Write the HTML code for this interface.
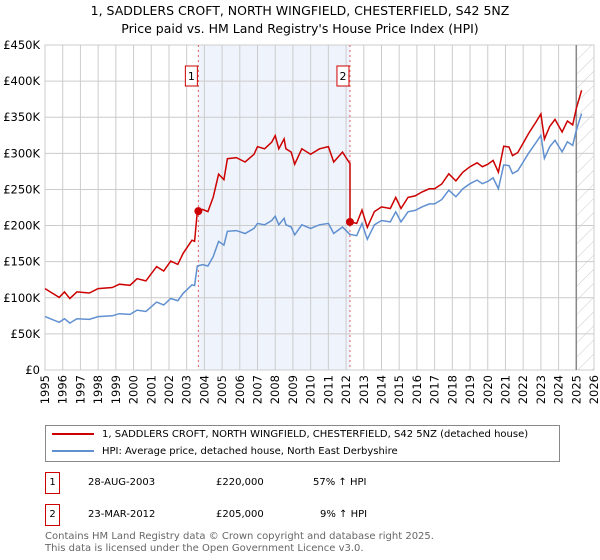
<!DOCTYPE html>
<html><head><meta charset="utf-8"><style>
body{margin:0;background:#fff;font-family:"DejaVu Sans","Liberation Sans",sans-serif;}
#wrap{position:relative;width:600px;height:560px;overflow:hidden}
.t{position:absolute;white-space:nowrap;color:#000}
</style></head><body><div id="wrap">
<div class="t" style="left:0;width:600px;text-align:center;top:2px;font-size:12.5px;line-height:18px">1, SADDLERS CROFT, NORTH WINGFIELD, CHESTERFIELD, S42 5NZ<br>Price paid vs. HM Land Registry's House Price Index (HPI)</div>
<svg id="chart" width="600" height="420" style="position:absolute;left:0;top:0;font-family:'DejaVu Sans',sans-serif"></svg>
<div style="position:absolute;left:45px;top:425px;width:513px;height:35px;border:1px solid #888;font-size:10px">
<div style="position:absolute;left:6px;top:3px;white-space:nowrap"><span style="display:inline-block;width:42px;height:2px;background:#cc0000;vertical-align:middle;margin-right:8px"></span>1, SADDLERS CROFT, NORTH WINGFIELD, CHESTERFIELD, S42 5NZ (detached house)</div>
<div style="position:absolute;left:6px;top:20px;white-space:nowrap"><span style="display:inline-block;width:42px;height:2px;background:#6090d0;vertical-align:middle;margin-right:8px"></span>HPI: Average price, detached house, North East Derbyshire</div>
</div>
<div style="font-size:10px">
<div class="t" style="left:45px;top:472px;width:13px;height:20px;border:1px solid #cc0000;text-align:center;line-height:20px">1</div>
<div class="t" style="left:88px;top:477px">28-AUG-2003</div>
<div class="t" style="left:216px;top:477px">£220,000</div>
<div class="t" style="left:313px;top:477px">57% ↑ HPI</div>
</div>
<div style="font-size:10px">
<div class="t" style="left:45px;top:504px;width:13px;height:20px;border:1px solid #cc0000;text-align:center;line-height:20px">2</div>
<div class="t" style="left:88px;top:509px">23-MAR-2012</div>
<div class="t" style="left:216px;top:509px">£205,000</div>
<div class="t" style="left:320px;top:509px">9% ↑ HPI</div>
</div>
<div class="t" style="left:45px;top:531px;font-size:10px;line-height:12px;color:#666">Contains HM Land Registry data © Crown copyright and database right 2025.<br>This data is licensed under the Open Government Licence v3.0.</div>
</div>
<script>
const hpiYears=[1995.0,1995.8,1996.1,1996.4,1996.8,1997.5,1998,1998.8,1999.2,1999.8,2000.2,2000.7,2001.3,2001.7,2002.1,2002.5,2002.8,2003.3,2003.45,2003.6,2003.9,2004.2,2004.5,2004.8,2005.1,2005.3,2005.8,2006.3,2006.8,2007.0,2007.4,2007.8,2008.0,2008.2,2008.5,2008.6,2008.9,2009.1,2009.5,2010,2010.5,2011,2011.3,2011.8,2012.2,2012.6,2012.9,2013.2,2013.6,2014,2014.5,2014.8,2015.1,2015.5,2015.9,2016.3,2016.7,2017,2017.4,2017.8,2018.2,2018.6,2019,2019.4,2019.7,2020.0,2020.3,2020.6,2020.9,2021.2,2021.4,2021.7,2022.0,2022.3,2022.7,2023.0,2023.2,2023.5,2023.8,2024.2,2024.5,2024.8,2025.0,2025.3];
const hpiValues=[74,66,71,65,71,70,74,75,78,77,83,81,94,90,99,96,106,118,117,144,146,144,157,178,173,192,193,189,196,203,201,207,213,201,210,201,198,187,201,196,201,203,189,198,188,186,203,181,201,207,205,219,205,219,221,226,230,230,236,249,240,251,258,263,258,261,266,251,284,283,272,276,288,300,314,325,293,309,318,302,316,311,332,355];
const saleDates=[2003.66,2012.22];
const salePrices=[220,205];
const yTicks=[0,50,100,150,200,250,300,350,400,450];
const xTicks=[1995,1996,1997,1998,1999,2000,2001,2002,2003,2004,2005,2006,2007,2008,2009,2010,2011,2012,2013,2014,2015,2016,2017,2018,2019,2020,2021,2022,2023,2024,2025,2026];
const dataEnd=2025.0;

const L=45,R=594,T=45,B=370,X0=1995,X1=2026,Ymax=450;
const sx=v=>L+(v-X0)/(X1-X0)*(R-L);
const sy=v=>B-v/Ymax*(B-T);
const NS="http://www.w3.org/2000/svg";
const svg=document.getElementById('chart');
function mk(tag,attrs,parent){const e=document.createElementNS(NS,tag);for(const k in attrs)e.setAttribute(k,attrs[k]);(parent||svg).appendChild(e);return e;}
function hpiAt(t){for(let i=0;i<hpiYears.length-1;i++){if(t>=hpiYears[i]&&t<=hpiYears[i+1]){const f=(t-hpiYears[i])/(hpiYears[i+1]-hpiYears[i]);return hpiValues[i]+f*(hpiValues[i+1]-hpiValues[i]);}}return hpiValues[hpiValues.length-1];}

const sh=mk('rect',{x:sx(saleDates[0]),y:T,width:sx(saleDates[1])-sx(saleDates[0]),height:B-T,fill:'#eef3fc'});


const defs=mk('defs',{});
const pat=mk('pattern',{id:'hatch',width:10,height:10,patternUnits:'userSpaceOnUse',patternTransform:'rotate(45)'},defs);
mk('line',{x1:0,y1:0,x2:0,y2:10,stroke:'#ccc','stroke-width':1},pat);
const ht=mk('rect',{x:sx(dataEnd),y:T,width:R-sx(dataEnd),height:B-T,fill:'url(#hatch)'});


xTicks.forEach(y=>{const g=mk('line',{x1:sx(y),x2:sx(y),y1:T,y2:B,stroke:'#ccc','stroke-width':1});


const tx=mk('text',{x:sx(y),y:B+5,'font-size':11.5,'text-anchor':'end',transform:`rotate(-90 ${sx(y)} ${B+5})`,dy:'0.35em'});tx.textContent=y;

});
yTicks.forEach(v=>{const g=mk('line',{x1:L,x2:R,y1:sy(v),y2:sy(v),stroke:'#ccc','stroke-width':1});


const tx=mk('text',{x:L-5,y:sy(v)+4,'font-size':11.5,'text-anchor':'end'});tx.textContent=v===0?'£0':'£'+v+'K';

});
const bd=mk('rect',{x:L,y:T,width:R-L,height:B-T,fill:'none',stroke:'#ccc'});


const el=mk('line',{x1:sx(dataEnd),x2:sx(dataEnd),y1:T,y2:B,stroke:'#888','stroke-width':1.5});


saleDates.forEach((d,i)=>{const l=mk('line',{x1:sx(d),x2:sx(d),y1:T,y2:B,stroke:'#e06060','stroke-dasharray':'2,3','stroke-width':1});


const bx=sx(d)-13;const r=mk('rect',{x:bx,y:66,width:12,height:20,fill:'#fff',stroke:'#cc0000'});


const t=mk('text',{x:bx+6,y:80,'font-size':11,'text-anchor':'middle'});t.textContent=i+1;

});
const hp=mk('path',{d:hpiYears.map((y,i)=>(i?'L':'M')+sx(y).toFixed(1)+','+sy(hpiValues[i]).toFixed(1)).join(''),fill:'none',stroke:'#6090d0','stroke-width':1.5});


let d='';
const r1=salePrices[0]/hpiAt(saleDates[0]),r2=salePrices[1]/hpiAt(saleDates[1]);
hpiYears.forEach((y,i)=>{if(y<saleDates[1])d+=(d?'L':'M')+sx(y).toFixed(1)+','+sy(hpiValues[i]*r1).toFixed(1);});
d+='L'+sx(saleDates[1]).toFixed(1)+','+sy(hpiAt(saleDates[1])*r1).toFixed(1);
d+='L'+sx(saleDates[1]).toFixed(1)+','+sy(salePrices[1]).toFixed(1);
hpiYears.forEach((y,i)=>{if(y>saleDates[1])d+='L'+sx(y).toFixed(1)+','+sy(hpiValues[i]*r2).toFixed(1);});
const pp=mk('path',{d:d,fill:'none',stroke:'#cc0000','stroke-width':1.5});


saleDates.forEach((dd,i)=>{const c=mk('circle',{cx:sx(dd),cy:sy(salePrices[i]),r:4,fill:'#cc0000'});

});
</script>
</body></html>
